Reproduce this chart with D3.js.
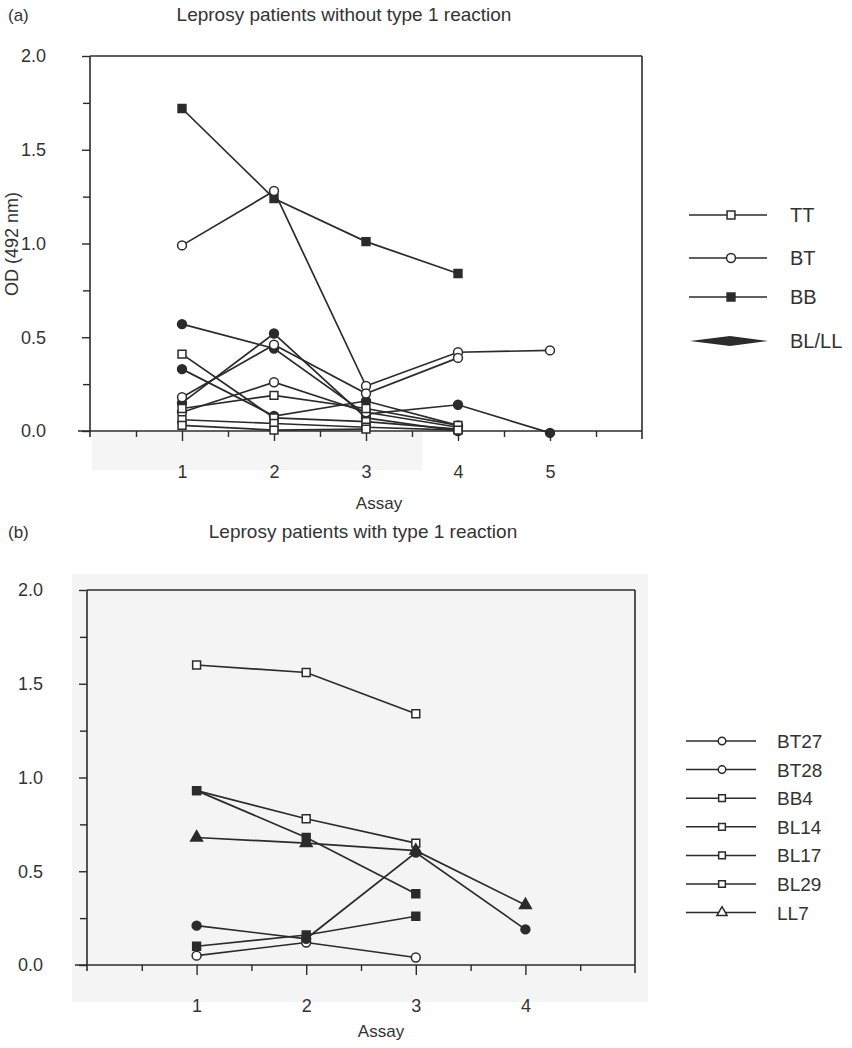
<!DOCTYPE html>
<html>
<head>
<meta charset="utf-8">
<script src="https://cdn.jsdelivr.net/npm/d3@7"></script>
<style>
  body { margin: 0; background: #fff; }
  svg { font-family: "Liberation Sans", Arial, sans-serif; }
  .tick text { fill: #333; }
</style>
</head>
<body>
<div id="chart"></div>
<script>
// ---- data ----
var assaysA = [1, 2, 3, 4, 5];
var assaysB = [1, 2, 3, 4];
var yTicks = [0, 0.5, 1.0, 1.5, 2.0];
var yMinor = [0.25, 0.75, 1.25, 1.75];

var groupsA = ["TT", "BT", "BB", "BL/LL"];
// each patient: group + OD values per assay
var patientGroupA = ["BB", "BT", "BL/LL", "BL/LL", "BL/LL", "BT", "BT", "TT", "TT", "TT", "TT"];
var patientValuesA = [
  [1.72, 1.24, 1.01, 0.84],
  [0.99, 1.28, 0.24, 0.42, 0.43],
  [0.57, 0.44, 0.09, 0.14, -0.01],
  [0.33, 0.08, 0.16, 0.03],
  [0.15, 0.52, 0.07, 0.0],
  [0.18, 0.46, 0.20, 0.39],
  [0.10, 0.26, 0.10, 0.02],
  [0.41, 0.07, 0.05, 0.01],
  [0.12, 0.19, 0.12, 0.03],
  [0.06, 0.04, 0.02, 0.005],
  [0.03, 0.005, 0.01]
];

var patientsB = ["BT27", "BT28", "BB4", "BL14", "BL17", "BL29", "LL7"];
var patientValuesB = [
  [0.05, 0.12, 0.04],
  [0.21, 0.14, 0.60, 0.19],
  [1.60, 1.56, 1.34],
  [0.93, 0.78, 0.65],
  [0.93, 0.68, 0.38],
  [0.10, 0.16, 0.26],
  [0.68, 0.65, 0.61, 0.32]
];

// marker styles
var markA = { "TT": ["square", false], "BT": ["circle", false], "BB": ["square", true], "BL/LL": ["circle", true] };
var markB = { "BT27": ["circle", false], "BT28": ["circle", true], "BB4": ["square", false], "BL14": ["square", false],
              "BL17": ["square", true], "BL29": ["square", true], "LL7": ["triangle", true] };

var ink = "#2b2b2b";
var textCol = "#333";

var svg = d3.select("#chart").append("svg")
    .attr("width", 852)
    .attr("height", 1048);

// light scanned background of panel (b)
svg.append("rect").attr("x", 72).attr("y", 574).attr("width", 576).attr("height", 428).attr("fill", "#f4f4f4");
svg.append("rect").attr("x", 92).attr("y", 432).attr("width", 330).attr("height", 38).attr("fill", "#f5f5f5");

function symbolFor(kind) {
  if (kind == "square") return d3.symbol().type(d3.symbolSquare).size(62);
  if (kind == "triangle") return d3.symbol().type(d3.symbolTriangle).size(60);
  return d3.symbol().type(d3.symbolCircle).size(62);
}

function panel(opt) {
  var x = d3.scaleLinear().domain([0, opt.xmax]).range(opt.xr);
  var y = d3.scaleLinear().domain([0, 2]).range(opt.yr);
  var g = svg.append("g");

  // frame: top + right
  g.append("line").attr("x1", x(0)).attr("x2", x(opt.xmax)).attr("y1", y(2)).attr("y2", y(2))
    .attr("stroke", ink).attr("stroke-width", 1.6);
  g.append("line").attr("x1", x(opt.xmax)).attr("x2", x(opt.xmax)).attr("y1", y(2)).attr("y2", y(0) + 8)
    .attr("stroke", ink).attr("stroke-width", 1.6);

  // y axis
  var ya = g.append("g").attr("transform", "translate(" + x(0) + ",0)")
    .call(d3.axisLeft(y).tickValues(yTicks).tickFormat(d3.format(".1f")).tickSize(8).tickPadding(36).tickSizeOuter(0));
  g.append("g").attr("transform", "translate(" + x(0) + ",0)")
    .call(d3.axisLeft(y).tickValues(yMinor).tickFormat("").tickSize(7).tickSizeOuter(0))
    .select(".domain").remove();
  ya.select(".domain").remove();
  g.append("line").attr("x1", x(0)).attr("x2", x(0)).attr("y1", y(2)).attr("y2", y(0) + 6)
    .attr("stroke", ink).attr("stroke-width", 1.6);

  // x axis
  var xa = g.append("g").attr("transform", "translate(0," + y(0) + ")")
    .call(d3.axisBottom(x).tickValues(opt.xTicks).tickFormat(d3.format("d")).tickSize(10).tickPadding(24).tickSizeOuter(0));
  xa.select(".domain").remove();
  var halves = d3.range(0.5, opt.xmax, 1);
  g.append("g").attr("transform", "translate(0," + y(0) + ")")
    .call(d3.axisBottom(x).tickValues(halves).tickFormat("").tickSize(6).tickSizeOuter(0))
    .select(".domain").remove();
  g.append("line").attr("x1", x(0) - 12).attr("x2", x(opt.xmax)).attr("y1", y(0)).attr("y2", y(0))
    .attr("stroke", ink).attr("stroke-width", 1.6);

  g.selectAll(".tick line").attr("stroke", ink).attr("stroke-width", 1.4);
  g.selectAll(".tick text").attr("font-size", 18).attr("fill", textCol);

  // lines + markers
  var line = d3.line().x(function(d, i) { return x(i + 1); }).y(function(d) { return y(d); });
  opt.values.forEach(function(vals, k) {
    var m = opt.marks[k];
    g.append("path").attr("d", line(vals)).attr("fill", "none")
      .attr("stroke", ink).attr("stroke-width", 1.7);
    g.selectAll(null).data(vals).enter().append("path")
      .attr("d", symbolFor(m[0])())
      .attr("transform", function(d, i) { return "translate(" + x(i + 1) + "," + y(d) + ")"; })
      .attr("fill", m[1] ? ink : "#fff")
      .attr("stroke", ink).attr("stroke-width", 1.5);
  });

  // axis title
  svg.append("text").attr("x", opt.assayX).attr("y", opt.assayY)
    .attr("text-anchor", "middle").attr("font-size", 17).attr("fill", textCol).text("Assay");
  return { x: x, y: y };
}

// ---- panel (a) ----
svg.append("text").attr("x", 8).attr("y", 21).attr("font-size", 17).attr("fill", textCol).text("(a)");
svg.append("text").attr("x", 344).attr("y", 21).attr("text-anchor", "middle").attr("font-size", 19)
  .attr("fill", textCol).text("Leprosy patients without type 1 reaction");
panel({
  xmax: 6, xr: [90, 642], yr: [431, 56], xTicks: assaysA, assayX: 379, assayY: 509,
  values: patientValuesA,
  marks: patientGroupA.map(function(gr) { return markA[gr]; })
});
svg.append("text").attr("transform", "translate(18,244) rotate(-90)").attr("text-anchor", "middle")
  .attr("font-size", 18).attr("fill", textCol).text("OD (492 nm)");

// legend (a)
var legA = svg.append("g");
groupsA.forEach(function(gr, i) {
  var ly = [215, 258, 297, 341][i];
  var m = markA[gr];
  if (gr == "BL/LL") {
    legA.append("path").attr("d", "M690," + ly + " L730," + (ly - 5) + " L768," + ly + " L730," + (ly + 5) + "Z")
      .attr("fill", ink);
  } else {
    legA.append("line").attr("x1", 689).attr("x2", 767).attr("y1", ly).attr("y2", ly)
      .attr("stroke", ink).attr("stroke-width", 1.5);
    legA.append("path").attr("d", symbolFor(m[0])()).attr("transform", "translate(731," + ly + ")")
      .attr("fill", m[1] ? ink : "#fff").attr("stroke", ink).attr("stroke-width", 1.5);
  }
  legA.append("text").attr("x", 790).attr("y", ly + 7).attr("font-size", 20).attr("fill", textCol).text(gr);
});

// ---- panel (b) ----
svg.append("text").attr("x", 8).attr("y", 538).attr("font-size", 17).attr("fill", textCol).text("(b)");
svg.append("text").attr("x", 363).attr("y", 538).attr("text-anchor", "middle").attr("font-size", 19)
  .attr("fill", textCol).text("Leprosy patients with type 1 reaction");
panel({
  xmax: 5, xr: [87, 635], yr: [965, 590], xTicks: assaysB, assayX: 381, assayY: 1037,
  values: patientValuesB,
  marks: patientsB.map(function(p) { return markB[p]; })
});

// legend (b) – all drawn with small open markers, as in the original key
var legB = svg.append("g");
patientsB.forEach(function(p, i) {
  var ly = 741 + i * 28.6;
  var m = markB[p];
  legB.append("line").attr("x1", 686).attr("x2", 756).attr("y1", ly).attr("y2", ly)
    .attr("stroke", ink).attr("stroke-width", 1.5);
  legB.append("path").attr("d", d3.symbol().type(m[0] == "triangle" ? d3.symbolTriangle : (m[0] == "square" ? d3.symbolSquare : d3.symbolCircle)).size(45)())
    .attr("transform", "translate(722," + ly + ")")
    .attr("fill", "#fff").attr("stroke", ink).attr("stroke-width", 1.5);
  legB.append("text").attr("x", 777).attr("y", ly + 7).attr("font-size", 19).attr("fill", textCol).text(p);
});
</script>
</body>
</html>
